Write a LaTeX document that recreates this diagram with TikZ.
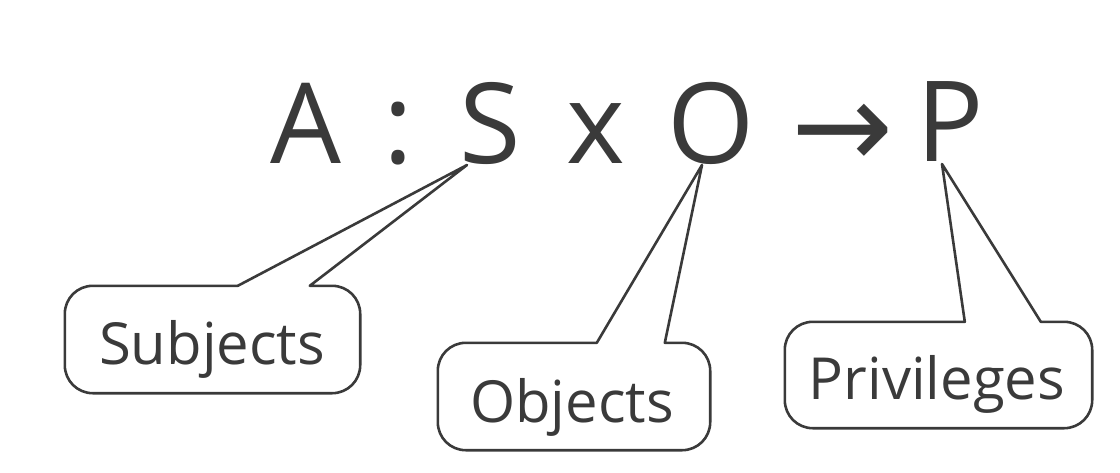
\documentclass[tikz,border=0pt]{standalone}
\usepackage{fontspec}
\setmainfont{Open Sans}
\newfontfamily\symfont{DejaVu Sans}
\usetikzlibrary{calc}
\definecolor{ink}{HTML}{3A3A3A}
\tikzset{
  every node/.style={text=ink},
  glyph/.style={font=\fontsize{112}{120}\selectfont,inner sep=0,anchor=base},
  tag/.style={font=\fontsize{58}{64}\selectfont,inner sep=0,anchor=base},
  boxshape/.style={inner sep=0,minimum width=#1,minimum height=107pt},
  balloon/.style={draw=ink,line width=2.6pt,line join=round}
}

\begin{document}
\begin{tikzpicture}[x=1pt,y=-1pt]
  \path[use as bounding box] (0,0) rectangle (1120,472);

  % the mapping A : S x O -> P
  \node[glyph] (A) at (306,163) {A};
  \node[glyph] (colon) at (398,163) {:};
  \node[glyph] (S) at (490,163) {S};
  \node[glyph] (times) at (596,163) {x};
  \node[glyph] (O) at (711,163) {O};
  \node[glyph,font=\symfont\fontsize{122}{130}\selectfont] (to) at (843,168) {→};
  \node[glyph] (P) at (950,161) {P};

  % callout boxes
  \node[boxshape=295pt] (subjbox) at (212.5,339.5) {};
  \node[tag] (subj) at (212,364) {Subjects};
  \node[boxshape=272pt] (objbox) at (574,396.5) {};
  \node[tag] (obj) at (572,422) {Objects};
  \node[boxshape=307pt,minimum height=106pt] (privbox) at (938.5,375) {};
  \node[tag] (priv) at (937,399) {Privileges};

  \draw[balloon] ($(subjbox.north west)+(245,0)$) [rounded corners=28pt] -- (subjbox.north east) -- (subjbox.south east) -- (subjbox.south west) -- (subjbox.north west) [sharp corners] -- ($(subjbox.north west)+(173,0)$) -- ($(S.base)+(-23,2)$) -- cycle;
  \draw[balloon] ($(objbox.north west)+(227,0)$) [rounded corners=28pt] -- (objbox.north east) -- (objbox.south east) -- (objbox.south west) -- (objbox.north west) [sharp corners] -- ($(objbox.north west)+(159,0)$) -- ($(O.base)+(-9,2)$) -- cycle;
  \draw[balloon] ($(privbox.north west)+(256,0)$) [rounded corners=28pt] -- (privbox.north east) -- (privbox.south east) -- (privbox.south west) -- (privbox.north west) [sharp corners] -- ($(privbox.north west)+(180,0)$) -- ($(P.base)+(-8,3)$) -- cycle;
\end{tikzpicture}
\end{document}
